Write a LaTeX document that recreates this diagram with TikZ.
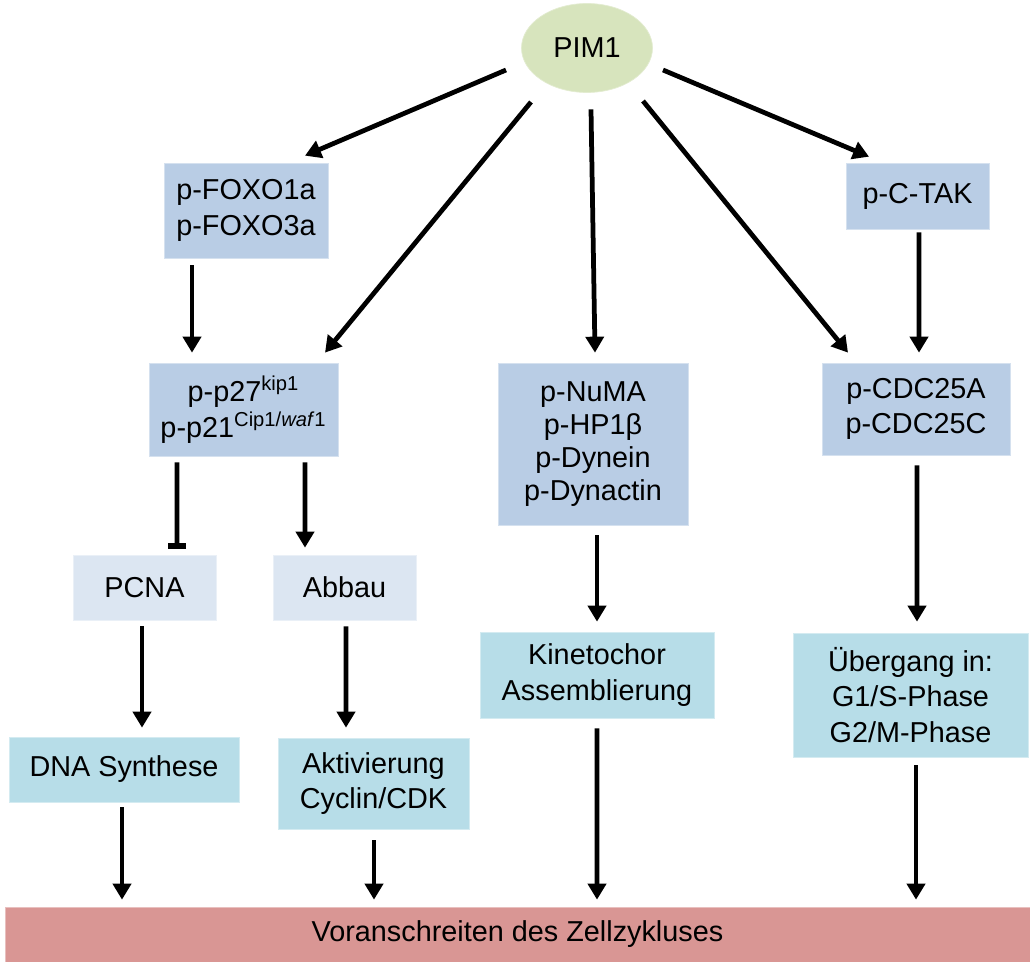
\documentclass[tikz,border=0pt]{standalone}
\usepackage{fontspec}
\setmainfont{Liberation Sans}
\usetikzlibrary{shapes.geometric,arrows.meta}

\definecolor{pimgreen}{HTML}{D7E4BD}
\definecolor{protblue}{HTML}{B9CDE5}
\definecolor{lightblue}{HTML}{DCE6F2}
\definecolor{effcyan}{HTML}{B7DDE8}
\definecolor{cyclered}{HTML}{D99694}

\begin{document}
\begin{tikzpicture}[
	x=0.02cm, y=-0.02cm,
	kinase/.style={
		ellipse,
		fill=pimgreen,
		draw=pimgreen!70!white,
		inner sep=0pt,
		minimum width=2.62cm,
		minimum height=1.78cm,
		font=\fontsize{16.4}{20.4}\selectfont
	},
	protein/.style={
		rectangle,
		fill=protblue,
		draw=protblue!60!white,
		align=center,
		inner sep=0pt,
		font=\fontsize{16.4}{20.4}\selectfont
	},
	target/.style={
		rectangle,
		fill=lightblue,
		draw=lightblue!60!white,
		align=center,
		inner sep=0pt,
		font=\fontsize{16.4}{20.4}\selectfont
	},
	effect/.style={
		rectangle,
		fill=effcyan,
		draw=effcyan!60!white,
		align=center,
		inner sep=0pt,
		font=\fontsize{16.4}{20.4}\selectfont
	},
	cycle/.style={
		rectangle,
		fill=cyclered,
		draw=cyclered!60!white,
		align=center,
		inner sep=0pt,
		font=\fontsize{16.4}{20.4}\selectfont
	},
	arr/.style={
		line width=0.095cm,
		-{Triangle[length=0.32cm,width=0.36cm]}
	},
	inhib/.style={
		line width=0.095cm,
		-{Bar[width=0.36cm,line width=0.11cm]}
	},
]

\useasboundingbox (0,0) rectangle (1030,962);

\node[kinase] (pim) at (587,48) {PIM1};

\node[protein, minimum width=3.28cm, minimum height=1.9cm] (foxo) at (246,210.5) {p-FOXO1a\\p-FOXO3a};
\node[protein, minimum width=2.86cm, minimum height=1.32cm] (ctak) at (917.5,196) {p-C-TAK};

\node[protein, minimum width=3.78cm, minimum height=1.86cm] (p27) at (243.5,409.5) {p-p27\textsuperscript{kip1}\\p-p21\textsuperscript{Cip1/\textit{waf}1}};
\node[protein, minimum width=3.8cm, minimum height=3.24cm, font=\fontsize{16.4}{18.8}\selectfont] (numa) at (593,444) {p-NuMA\\p-HP1β\\p-Dynein\\p-Dynactin};
\node[protein, minimum width=3.76cm, minimum height=1.84cm] (cdc) at (916,409) {p-CDC25A\\p-CDC25C};

\node[target, minimum width=2.86cm, minimum height=1.3cm] (pcna) at (144.5,587.5) {PCNA};
\node[target, minimum width=2.86cm, minimum height=1.3cm] (abbau) at (344.5,587.5) {Abbau};

\node[effect, minimum width=4.68cm, minimum height=1.72cm] (kin) at (597,675) {Kinetochor\\Assemblierung};
\node[effect, minimum width=4.7cm, minimum height=2.48cm] (ueb) at (910.5,695) {Übergang in:\\G1/S-Phase\\G2/M-Phase};
\node[effect, minimum width=4.6cm, minimum height=1.3cm] (dna) at (124,769.5) {DNA Synthese};
\node[effect, minimum width=3.82cm, minimum height=1.82cm] (akt) at (373.5,783.5) {Aktivierung\\Cyclin/CDK};

\node[cycle, minimum width=20.5cm, minimum height=1.1cm] (zyklus) at (517.5,934.5) {Voranschreiten des Zellzykluses};

% von PIM1
\draw[arr] ([shift={(-81,22)}]pim.center) -- ([shift={(59,-7)}]foxo.north);
\draw[arr] ([shift={(-56,54)}]pim.center) -- ([shift={(81.5,-10)}]p27.north);
\draw[arr] ([shift={(4,16.5)}]pim.south) -- ([shift={(2,-10)}]numa.north);
\draw[arr] ([shift={(56,53)}]pim.center) -- ([shift={(-68,-10)}]cdc.north);
\draw[arr] ([shift={(76,22)}]pim.center) -- ([shift={(-48.5,-6)}]ctak.north);

\draw[arr] ([shift={(-54,7)}]foxo.south) -- ([shift={(-51.5,-10)}]p27.north);
\draw[arr] ([shift={(1.5,3)}]ctak.south) -- ([shift={(3,-10)}]cdc.north);

\draw[inhib] ([shift={(-66.5,6)}]p27.south) -- ([shift={(32.5,-6)}]pcna.north);
\draw[arr] ([shift={(61.5,6)}]p27.south) -- ([shift={(-39.5,-7)}]abbau.north);

\draw[arr] ([shift={(-2.5,6)}]pcna.south) -- ([shift={(18,-9)}]dna.north);
\draw[arr] ([shift={(1.5,6)}]abbau.south) -- ([shift={(-27.5,-10)}]akt.north);
\draw[arr] ([shift={(4,10)}]numa.south) -- ([shift={(0,-10)}]kin.north);
\draw[arr] ([shift={(1,10)}]cdc.south) -- ([shift={(6.5,-11)}]ueb.north);

% zum Zellzyklus
\draw[arr] ([shift={(-2,5)}]dna.south) -- ([shift={(-395.5,-7)}]zyklus.north);
\draw[arr] ([shift={(0.5,11)}]akt.south) -- ([shift={(-143.5,-7)}]zyklus.north);
\draw[arr] ([shift={(0,10)}]kin.south) -- ([shift={(79.5,-7)}]zyklus.north);
\draw[arr] ([shift={(5.5,8)}]ueb.south) -- ([shift={(398.5,-7)}]zyklus.north);

\end{tikzpicture}
\end{document}
